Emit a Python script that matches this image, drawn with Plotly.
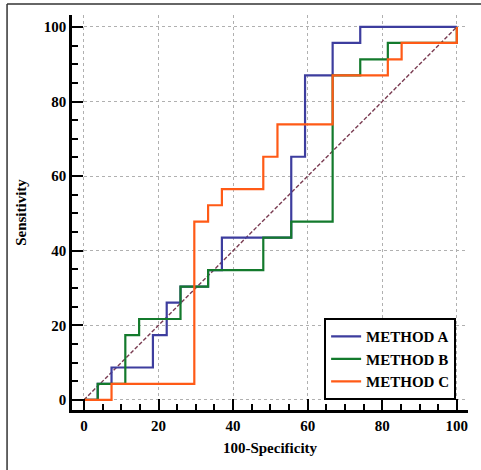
import plotly.graph_objects as go

# ROC step curves (100-Specificity vs Sensitivity)
method_a_x = [0, 3.7, 3.7, 7.4, 7.4, 18.5, 18.5, 22.2, 22.2, 25.9, 25.9, 33.3, 33.3, 37.0, 37.0,
              55.6, 55.6, 59.3, 59.3, 66.7, 66.7, 74.1, 74.1, 100]
method_a_y = [0, 0, 4.3, 4.3, 8.7, 8.7, 17.4, 17.4, 26.1, 26.1, 30.4, 30.4, 34.8, 34.8, 43.5,
              43.5, 65.2, 65.2, 87.0, 87.0, 95.7, 95.7, 100, 100]

method_b_x = [0, 3.7, 3.7, 11.1, 11.1, 14.8, 14.8, 25.9, 25.9, 33.3, 33.3, 48.1, 48.1, 55.6, 55.6,
              66.7, 66.7, 74.1, 74.1, 81.5, 81.5, 100, 100]
method_b_y = [0, 0, 4.3, 4.3, 17.4, 17.4, 21.7, 21.7, 30.4, 30.4, 34.8, 34.8, 43.5, 43.5, 47.8,
              47.8, 87.0, 87.0, 91.3, 91.3, 95.7, 95.7, 100]

method_c_x = [0, 7.4, 7.4, 29.6, 29.6, 33.3, 33.3, 37.0, 37.0, 48.1, 48.1, 51.9, 51.9, 66.7, 66.7,
              81.5, 81.5, 85.2, 85.2, 100, 100]
method_c_y = [0, 0, 4.3, 4.3, 47.8, 47.8, 52.2, 52.2, 56.5, 56.5, 65.2, 65.2, 73.9, 73.9, 87.0,
              87.0, 91.3, 91.3, 95.7, 95.7, 100]

diag_x = [0, 100]
diag_y = [0, 100]

series_names = ["METHOD A", "METHOD B", "METHOD C"]
series_colors = ["#3d3d9e", "#137a2c", "#ff5a16"]

tick_vals = [0, 20, 40, 60, 80, 100]
tick_text = ["0", "20", "40", "60", "80", "100"]

FONT = "Liberation Serif, Times New Roman, serif"

fig = go.Figure()
fig.add_trace(go.Scatter(x=diag_x, y=diag_y, mode="lines", showlegend=False,
                         line=dict(color="#7a3c52", width=1.4, dash="4px,2px"), hoverinfo="skip"))
for xs, ys, name, col in zip([method_a_x, method_b_x, method_c_x],
                             [method_a_y, method_b_y, method_c_y],
                             series_names, series_colors):
    fig.add_trace(go.Scatter(x=xs, y=ys, mode="lines", name=name,
                             line=dict(color=col, width=2.2)))

axis_common = dict(
    showline=True, linecolor="black", linewidth=2.5, mirror=False,
    ticks="inside", ticklen=11, tickwidth=2, tickcolor="black",
    tickvals=tick_vals, ticktext=tick_text,
    tickfont=dict(family=FONT, size=15, color="black", weight="bold"),
    showgrid=True, gridcolor="#b0b0b0", gridwidth=1, griddash="dot",
    zeroline=False, automargin=False,
    minor=dict(dtick=5, tick0=0, ticks="inside", ticklen=6, tickwidth=1.5,
               tickcolor="black", showgrid=False),
)

fig.update_xaxes(range=[-3.2, 103], title=dict(text="100-Specificity", standoff=10,
                 font=dict(family=FONT, size=15, color="black", weight="bold")), **axis_common)
fig.update_yaxes(range=[-2.7, 103.2], title=dict(text="Sensitivity", standoff=14,
                 font=dict(family=FONT, size=15, color="black", weight="bold")), **axis_common)

# outer frame (left and top edges visible in the picture)
fig.add_shape(type="line", xref="paper", yref="paper", x0=-0.164, x1=-0.164, y0=-0.3, y1=1.028,
              line=dict(color="#333333", width=1.5), layer="above")
fig.add_shape(type="line", xref="paper", yref="paper", x0=-0.164, x1=1.1, y0=1.028, y1=1.028,
              line=dict(color="#333333", width=1.5), layer="above")

fig.update_layout(
    width=481, height=470,
    margin=dict(l=72, r=13, t=15, b=60),
    paper_bgcolor="white", plot_bgcolor="white",
    legend=dict(x=0.97, y=0.025, xanchor="right", yanchor="bottom",
                bgcolor="white", bordercolor="black", borderwidth=2,
                font=dict(family=FONT, size=15, color="black", weight="bold"),
                tracegroupgap=0, itemwidth=30),
)

fig.write_html("out.html", config={"displayModeBar": False},
               post_script="document.body.style.margin='0';document.body.style.padding='0';")
